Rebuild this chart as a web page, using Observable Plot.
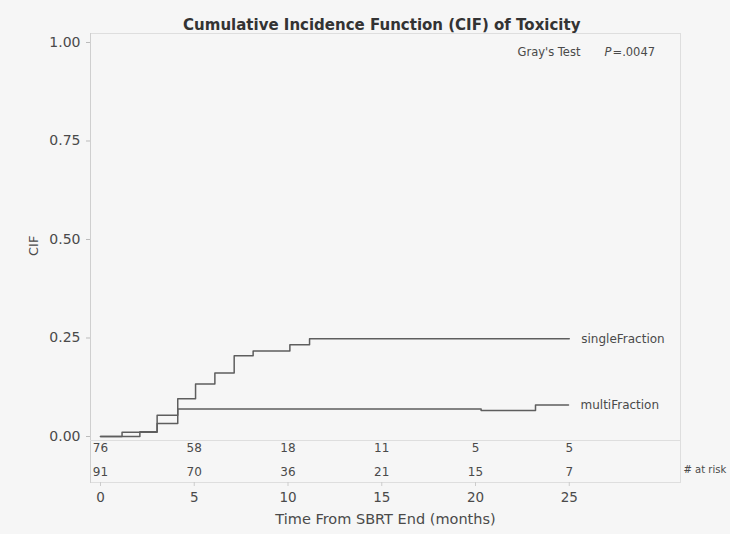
<!DOCTYPE html>
<html>
<head>
<meta charset="utf-8">
<script src="https://cdn.jsdelivr.net/npm/d3@7"></script>
<script src="https://cdn.jsdelivr.net/npm/@observablehq/plot@0.6"></script>
<style>
  html, body { margin: 0; padding: 0; background: #f6f6f6; }
  #chart svg { display: block; }
</style>
</head>
<body>
<div id="chart"></div>
<script>
// ---- data ----
const title = "Cumulative Incidence Function (CIF) of Toxicity";
const xLabel = "Time From SBRT End (months)";
const yLabel = "CIF";
const testLabel = "Gray's Test";
const pSymbol = "P";
const pValue = "=.0047";

const singleTime = [0, 2.1, 3.02, 4.12, 5.07, 6.1, 7.13, 8.14, 10.1, 11.15, 25.0];
const singleCIF  = [0, 0.012, 0.033, 0.096, 0.133, 0.161, 0.205, 0.217, 0.233, 0.248, 0.248];

const multiTime = [0, 1.15, 3.02, 4.12, 20.3, 23.2, 24.96];
const multiCIF  = [0, 0.011, 0.054, 0.070, 0.066, 0.080, 0.080];

const seriesNames = ["singleFraction", "multiFraction"];

const riskTimes = [0, 5, 10, 15, 20, 25];
const riskSingle = [76, 58, 18, 11, 5, 5];
const riskMulti  = [91, 70, 36, 21, 15, 7];
const riskLabel = "# at risk";

const xTicks = [0, 5, 10, 15, 20, 25];
const yTicks = [0, 0.25, 0.5, 0.75, 1];

// ---- build tables ----
const curves = [
  ...singleTime.map((t, i) => ({series: seriesNames[0], t, cif: singleCIF[i]})),
  ...multiTime.map((t, i) => ({series: seriesNames[1], t, cif: multiCIF[i]}))
];
const ends = [
  {series: seriesNames[0], t: singleTime[singleTime.length - 1], cif: singleCIF[singleCIF.length - 1]},
  {series: seriesNames[1], t: multiTime[multiTime.length - 1], cif: multiCIF[multiCIF.length - 1]}
];
const riskRows = [
  ...riskTimes.map((t, i) => ({row: 0, t, n: riskSingle[i]})),
  ...riskTimes.map((t, i) => ({row: 1, t, n: riskMulti[i]}))
];

const font = "'DejaVu Sans', sans-serif";
const ink = "#4a4a4a";
const frameColor = "#dedede";

const xDomain = [-0.5333, 30.9333];
const yDomain = [-0.11675, 1.02284];

const chart = Plot.plot({
  width: 730,
  height: 534,
  marginTop: 33,
  marginLeft: 90,
  marginRight: 50,
  marginBottom: 52,
  style: {background: "#f6f6f6", fontFamily: font, color: ink, overflow: "visible"},
  x: {domain: xDomain},
  y: {domain: yDomain},
  marks: [
    Plot.frame({anchor: "top", stroke: frameColor}),
    Plot.frame({anchor: "right", stroke: frameColor}),
    Plot.frame({anchor: "bottom", stroke: frameColor}),
    Plot.frame({anchor: "left", stroke: "#cfcfcf"}),
    Plot.ruleY([0], {dy: 4, stroke: frameColor}),
    Plot.axisY({ticks: yTicks, tickFormat: d3.format(".2f"), tickSize: 4, tickPadding: 6,
      label: null, fontSize: 14, stroke: "#bbb", fill: ink}),
    Plot.axisX({ticks: xTicks, tickSize: 4, tickPadding: 6, label: null,
      fontSize: 13.5, stroke: "#ccc", fill: ink}),
    Plot.text([yLabel], {frameAnchor: "left", dx: -57, dy: -2, rotate: -90, fontSize: 13, fill: ink}),
    Plot.text([xLabel], {frameAnchor: "bottom", dy: 41, x: () => 15.2, fontSize: 14.5, fill: ink}),
    Plot.text([title], {frameAnchor: "top", dy: -14, fontSize: 15, fontWeight: "bold", fill: "#333",
      x: () => 15.0}),
    Plot.text([testLabel], {frameAnchor: "top-right", dx: -163, dy: 14, textAnchor: "start",
      fontSize: 11.5, fill: ink}),
    Plot.text([pSymbol], {frameAnchor: "top-right", dx: -76, dy: 14, textAnchor: "start",
      fontSize: 11.5, fill: ink, fontStyle: "italic"}),
    Plot.text([pValue], {frameAnchor: "top-right", dx: -68, dy: 14, textAnchor: "start",
      fontSize: 11.5, fill: ink}),
    Plot.line(curves, {x: "t", y: "cif", z: "series", curve: "step-after",
      stroke: "#5e5e5e", strokeWidth: 1.5}),
    Plot.text(ends, {x: "t", y: "cif", text: "series", dx: 12, textAnchor: "start",
      fontSize: 12, fill: ink}),
    Plot.text(riskRows.filter(d => d.row === 0), {x: "t", y: () => 0, text: "n", dy: 12,
      fontSize: 12, fill: ink}),
    Plot.text(riskRows.filter(d => d.row === 1), {x: "t", y: () => 0, text: "n", dy: 36,
      fontSize: 12, fill: ink}),
    Plot.text([riskLabel], {frameAnchor: "bottom-right", dx: 3, dy: -10, textAnchor: "start",
      fontSize: 10, fill: ink})
  ]
});
document.getElementById("chart").appendChild(chart);
</script>
</body>
</html>
